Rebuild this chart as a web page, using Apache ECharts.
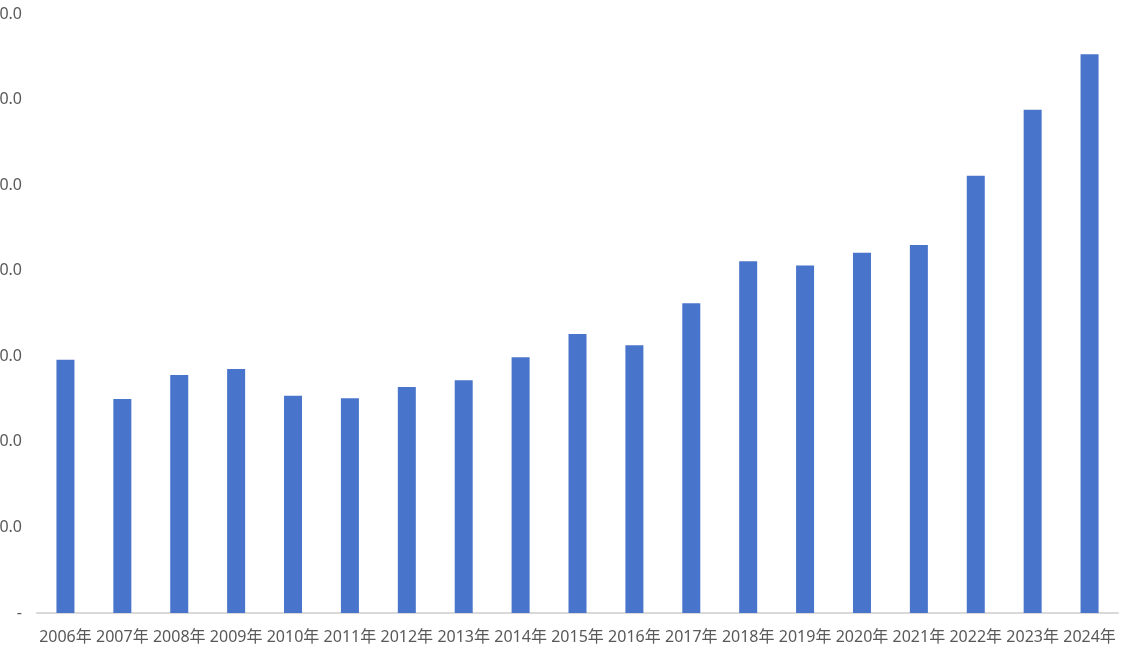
<!DOCTYPE html>
<html>
<head>
<meta charset="utf-8">
<script src="https://cdn.jsdelivr.net/npm/echarts@6/dist/echarts.min.js"></script>
<style>
  html, body { margin: 0; padding: 0; background: #fff; }
  #chart { width: 1125px; height: 651px; }
</style>
</head>
<body>
<div id="chart"></div>
<script>
// 年份
const years = ['2006年', '2007年', '2008年', '2009年', '2010年', '2011年', '2012年', '2013年', '2014年', '2015年',
  '2016年', '2017年', '2018年', '2019年', '2020年', '2021年', '2022年', '2023年', '2024年']
// 数值
const values = [29.6, 25.0, 27.8, 28.5, 25.4, 25.1, 26.4, 27.2, 29.9, 32.6,
  31.3, 36.2, 41.1, 40.6, 42.1, 43.0, 51.1, 58.8, 65.3]
// y轴刻度
const yTicks = [0, 10, 20, 30, 40, 50, 60, 70]

const myChart = echarts.init(document.getElementById('chart'))
const font = '"Noto Sans", "Noto Sans CJK SC", sans-serif'

const option = {
  animation: false,
  grid: {
    left: 37,
    right: 7,
    top: 14,
    bottom: 38,
    containLabel: false,
    outerBoundsMode: 'none'
  },
  xAxis: {
    type: 'category',
    data: years,
    axisLine: { lineStyle: { color: '#D9D9D9', width: 2 } },
    axisTick: { show: false },
    axisLabel: {
      interval: 0,
      color: '#595959',
      fontSize: 16,
      fontFamily: font,
      margin: 16
    }
  },
  yAxis: {
    type: 'value',
    min: yTicks[0],
    max: yTicks[yTicks.length - 1],
    interval: 10,
    splitLine: { show: false },
    axisLine: { show: false },
    axisTick: { show: false },
    axisLabel: {
      color: '#595959',
      fontSize: 16,
      fontFamily: font,
      margin: 15,
      formatter: function (v) {
        return v === 0 ? '-' : v.toFixed(1)
      }
    }
  },
  series: [
    {
      type: 'bar',
      data: values,
      barWidth: 18,
      itemStyle: { color: '#4874CB' }
    }
  ]
}
myChart.setOption(option)
</script>
</body>
</html>
